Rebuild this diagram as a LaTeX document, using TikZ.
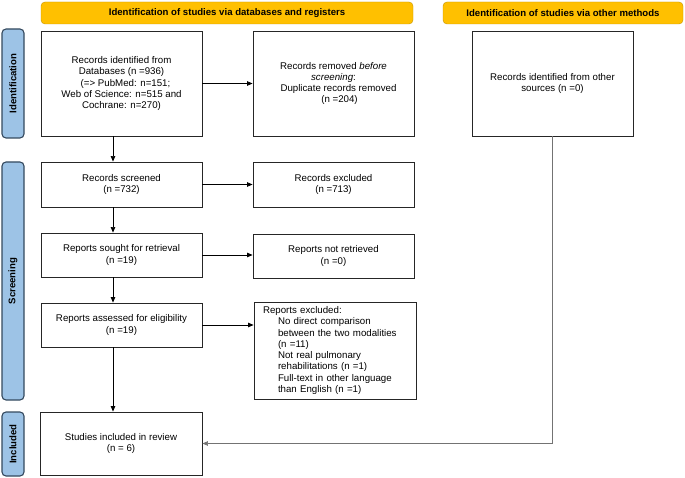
\documentclass[tikz,border=0pt]{standalone}
\usepackage{fontspec}
\setmainfont{Liberation Sans}
\usetikzlibrary{arrows.meta}
\definecolor{headyellow}{HTML}{FFC000}
\definecolor{headedge}{HTML}{C49300}
\definecolor{sideblue}{HTML}{9DC3E6}
\definecolor{sideedge}{HTML}{34495E}
\begin{document}
\begin{tikzpicture}[x=1pt,y=-1pt,>={Triangle[length=5.5pt,width=4.5pt]},
  head/.style={draw=headedge,fill=headyellow,rounded corners=4pt,minimum height=22pt,font=\fontsize{9.6}{11}\selectfont\bfseries},
  side/.style={draw=sideedge,fill=sideblue,line width=1.1pt,rounded corners=4pt,rotate=90,minimum height=22pt,font=\fontsize{9.6}{11}\selectfont\bfseries},
  box/.style={draw=black!85,line width=0.9pt,fill=white,align=center,minimum width=161pt,font=\fontsize{9.7}{11.3}\selectfont},
  link/.style={->,line width=0.7pt}]

\useasboundingbox (0,0) rectangle (685,478);

\node[head,minimum width=372pt] (dbhead) at (227,13) {Identification of studies via databases and registers};
\node[head,minimum width=240pt] (othead) at (563,13) {Identification of studies via other methods};

\node[side,minimum width=109pt] (idbar) at (13,83.5) {Identification};
\node[side,minimum width=238pt] (scbar) at (13,281) {Screening};
\node[side,minimum width=64pt] (inbar) at (13,444) {Included};

\node[box,minimum height=105pt] (ident) at (121.5,83.5) {Records identified from\\Databases (n =936)\\\hspace*{8pt}(=> PubMed: n=151;\\Web of Science: n=515 and\\Cochrane: n=270)};
\node[box,minimum height=105pt] (removed) at (333.5,83.5) {Records removed \textit{before}\\\textit{screening}:\\\hspace*{10pt}Duplicate records removed\\\hspace*{12pt}(n =204)};
\node[box,minimum height=105pt] (other) at (552.5,83.5) {Records identified from other\\sources (n =0)};

\node[box,minimum height=45pt] (screened) at (121.5,184.5) {Records screened\\(n =732)};
\node[box,minimum height=45pt] (excluded) at (333.5,184.5) {Records excluded\\(n =713)};
\node[box,minimum height=44pt] (sought) at (121.5,255) {Reports sought for retrieval\\(n =19)};
\node[box,minimum height=44pt] (notret) at (333.5,256) {Reports not retrieved\\(n =0)};
\node[box,minimum height=44pt] (assessed) at (121.5,325) {Reports assessed for eligibility\\(n =19)};
\node[box,align=left,minimum width=0pt,text width=144pt,inner xsep=9pt,minimum height=97pt] (repexcl) at (335,350.5) {Reports excluded:\\\hspace*{15pt}No direct comparison\\\hspace*{15pt}between the two modalities\\\hspace*{15pt}(n =11)\\\hspace*{15pt}Not real pulmonary\\\hspace*{15pt}rehabilitations (n =1)\\\hspace*{15pt}Full-text in other language\\\hspace*{15pt}than English (n =1)};
\node[box,minimum width=162pt,minimum height=63pt] (included) at (121,443.5) {Studies included in review\\(n = 6)};

\coordinate (spine) at (113,0);
\draw[link] (ident.south -| spine) -- (screened.north -| spine);
\draw[link] (screened.south -| spine) -- (sought.north -| spine);
\draw[link] (sought.south -| spine) -- (assessed.north -| spine);
\draw[link] (assessed.south -| spine) -- (included.north -| spine);
\draw[link] (ident) -- (removed);
\draw[link] (screened) -- (excluded);
\draw[link] (sought.east) -- (sought.east -| notret.west);
\draw[link] (assessed.east) -- (assessed.east -| repexcl.west);
\draw[link,draw=black!55] (other.south) |- (included.east);
\end{tikzpicture}
\end{document}
